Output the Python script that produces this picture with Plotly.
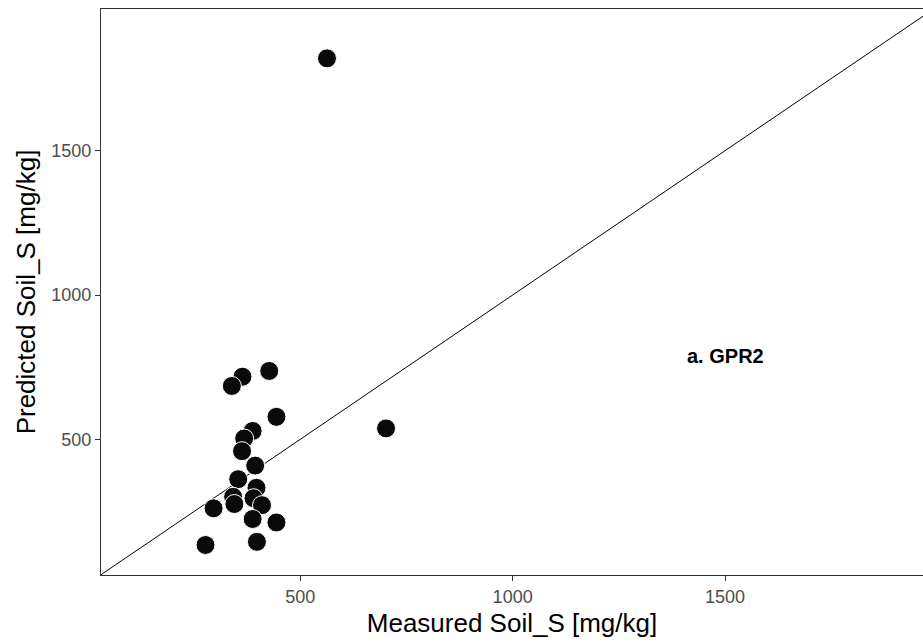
import plotly.graph_objects as go

# measured vs predicted soil S (mg/kg)
measured = [427, 364, 339, 444, 388, 368, 363, 394, 354, 397, 342, 345,
            390, 410, 296, 388, 444, 398, 277, 702, 563]
predicted = [737, 717, 685, 578, 529, 503, 459, 409, 362, 332, 301, 276,
             296, 272, 261, 224, 212, 145, 134, 538, 1820]

# 1:1 reference line ends
identity = [0, 2100]

x_ticks = [500, 1000, 1500]
y_ticks = [500, 1000, 1500]

font_family = "Liberation Sans, Arial, sans-serif"

fig = go.Figure()

# 1:1 line
fig.add_trace(go.Scatter(x=identity, y=identity, mode="lines",
                         line=dict(color="black", width=1),
                         hoverinfo="skip", showlegend=False))

# points
fig.add_trace(go.Scatter(x=measured, y=predicted, mode="markers",
                         marker=dict(size=19, color="#0a0a0a",
                                     line=dict(color="white", width=1)),
                         showlegend=False))

fig.add_annotation(x=1500, y=790, text="<b>a. GPR2</b>", showarrow=False,
                   font=dict(family=font_family, size=20, color="black"))

fig.update_layout(
    width=923, height=644,
    margin=dict(l=101, r=0, t=9, b=69, autoexpand=False),
    plot_bgcolor="white", paper_bgcolor="white",
    font=dict(family=font_family),
)

fig.update_xaxes(
    range=[31, 1966], tickvals=x_ticks, showgrid=False, zeroline=False,
    showline=True, linecolor="#333333", linewidth=1.3, mirror=True,
    ticks="outside", ticklen=5, tickcolor="#333333", automargin=False,
    tickfont=dict(size=18, color="#4d4d4d"),
    title=dict(text="Measured Soil_S [mg/kg]", standoff=8,
               font=dict(size=26, color="black")),
)
fig.update_yaxes(
    range=[30, 1991], tickvals=y_ticks, showgrid=False, zeroline=False,
    showline=True, linecolor="#333333", linewidth=1.3,
    ticks="outside", ticklen=5, tickcolor="#333333", automargin=False,
    tickfont=dict(size=18, color="#4d4d4d"),
    title=dict(text="Predicted Soil_S [mg/kg]", standoff=8,
               font=dict(size=26, color="black")),
)

# drop the browser's default body margin so the figure fills the window
fig.write_html("out.html", config={"displayModeBar": False},
               post_script="document.body.style.margin='0';"
                           "document.body.style.overflow='hidden';")
